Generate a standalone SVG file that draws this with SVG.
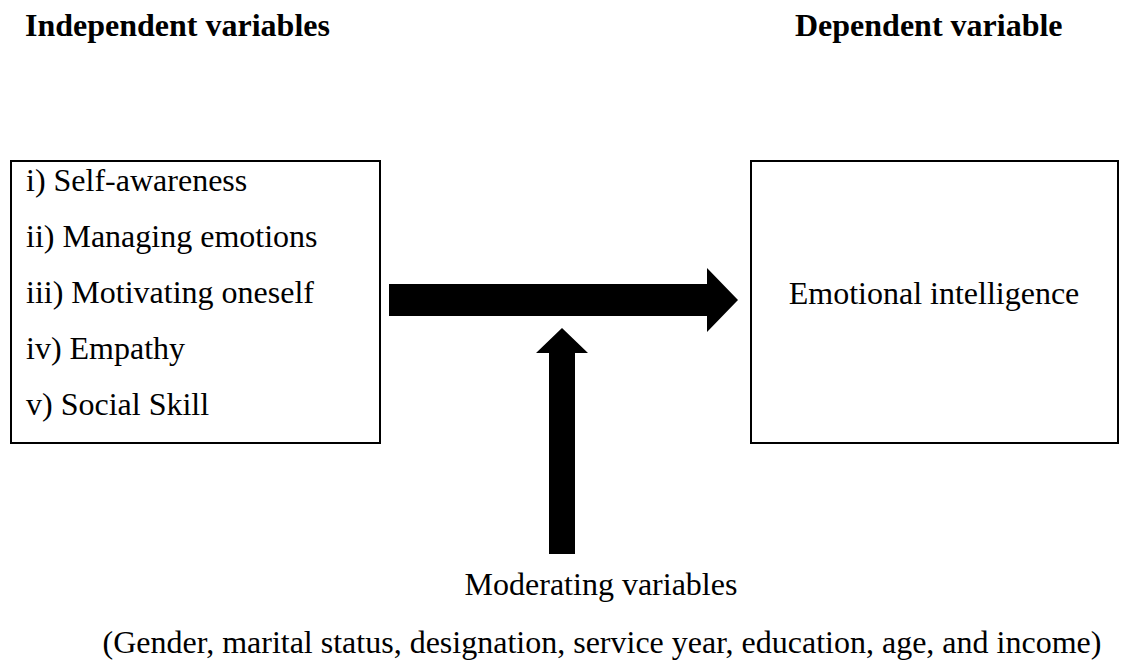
<svg xmlns="http://www.w3.org/2000/svg" width="1121" height="668" viewBox="0 0 1121 668">
<style>
text{font-family:'Liberation Serif',serif;font-size:32px;fill:#000}
.b{font-weight:bold}
.box{fill:#fff;stroke:#000;stroke-width:2}
.arr{fill:#000}
</style>
<rect width="1121" height="668" fill="#fff"/>
<text class="b" x="25" y="36">Independent variables</text>
<text class="b" x="795" y="36">Dependent variable</text>
<g id="independent">
<rect class="box" x="11" y="161" width="369" height="282"/>
<text x="26" y="191">i) Self-awareness</text>
<text x="26" y="247">ii) Managing emotions</text>
<text x="26" y="303">iii) Motivating oneself</text>
<text x="26" y="359">iv) Empathy</text>
<text x="26" y="415">v) Social Skill</text>
</g>
<g id="dependent">
<rect class="box" x="751" y="161" width="367" height="282"/>
<text x="934" y="304" text-anchor="middle">Emotional intelligence</text>
</g>
<g id="moderating">
<text x="601" y="595" text-anchor="middle">Moderating variables</text>
<text x="602" y="653" text-anchor="middle">(Gender, marital status, designation, service year, education, age, and income)</text>
</g>
<g id="connectors">
<polygon class="arr" points="389,284 707,284 707,268 738,300 707,332 707,316 389,316"/>
<polygon class="arr" points="549,554 549,353 536,353 562,328 588,353 575,353 575,554"/>
</g>
</svg>
